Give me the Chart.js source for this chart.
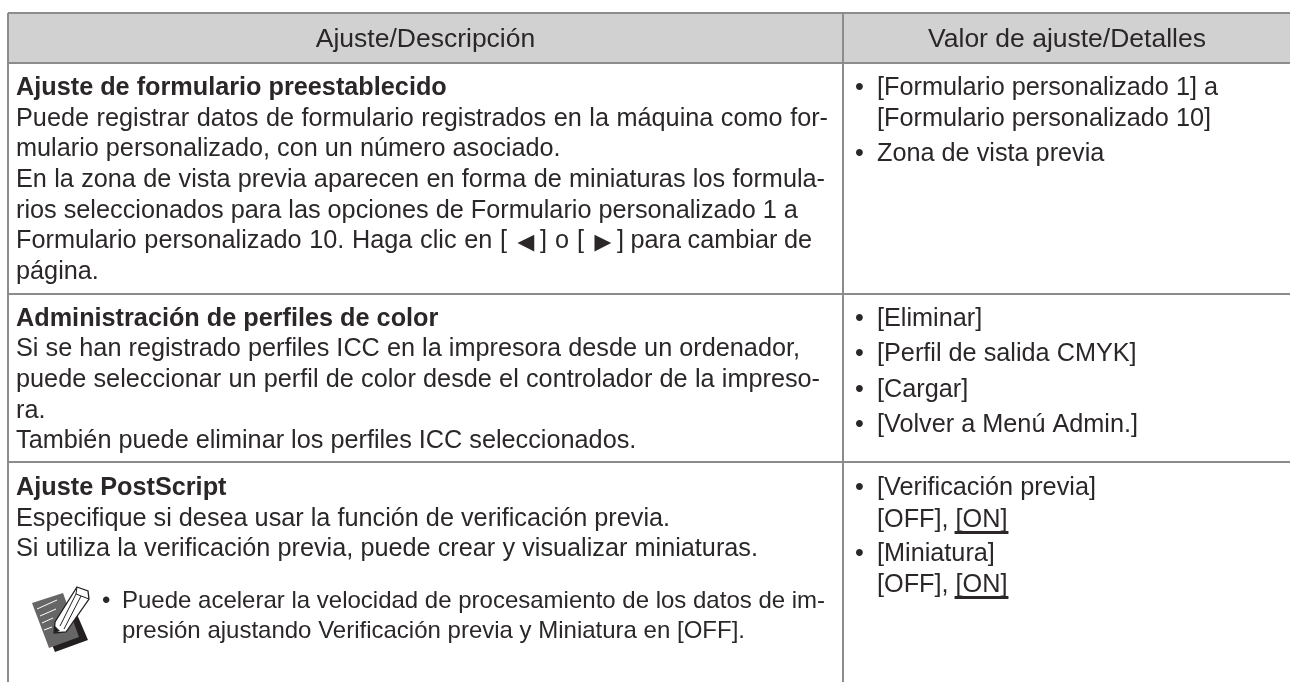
<!DOCTYPE html>
<html>
<head>
<meta charset="utf-8">
<style>
  html, body { margin: 0; padding: 0; background: #fff; }
  #wrap { width: 1290px; height: 682px; }
</style>
<script src="https://cdn.jsdelivr.net/npm/chart.js@4"></script>
</head>
<body>
<div id="wrap"><canvas id="chart" width="1290" height="682"></canvas></div>
<script>
// table rules, in chart units
const colEdges = [8, 843, 1290];
const rowEdges = [13, 63, 293.5, 462, 682];

const headers = ['Ajuste/Descripción', 'Valor de ajuste/Detalles'];

// [weight, text, right end of the line when the word gaps are stretched]
const row1Left = [
  ['b', 'Ajuste de formulario preestablecido'],
  ['', 'Puede registrar datos de formulario registrados en la máquina como for-', 828],
  ['', 'mulario personalizado, con un número asociado.'],
  ['', 'En la zona de vista previa aparecen en forma de miniaturas los formula-', 825],
  ['', 'rios seleccionados para las opciones de Formulario personalizado 1 a'],
  null, // arrow line, see arrowLine
  ['', 'página.'],
];
const row2Left = [
  ['b', 'Administración de perfiles de color'],
  ['', 'Si se han registrado perfiles ICC en la impresora desde un ordenador,', 800],
  ['', 'puede seleccionar un perfil de color desde el controlador de la impreso-', 820],
  ['', 'ra.'],
  ['', 'También puede eliminar los perfiles ICC seleccionados.'],
];
const row3Left = [
  ['b', 'Ajuste PostScript'],
  ['', 'Especifique si desea usar la función de verificación previa.'],
  ['', 'Si utiliza la verificación previa, puede crear y visualizar miniaturas.', 758],
];
const noteLines = [
  'Puede acelerar la velocidad de procesamiento de los datos de im-',
  'presión ajustando Verificación previa y Miniatura en [OFF].',
];
// [text, left, right end]
const arrowLine = [
  ['Formulario personalizado 10. Haga clic en [', 16, 507],
  ['] o [', 540, 584],
  ['] para cambiar de', 617, 812],
];
const arrowGlyphs = [['◄', 512], ['►', 589]];
const row1Right = [[95, '• ', '[Formulario personalizado 1] a'], [126, '', '[Formulario personalizado 10]'], [161, '• ', 'Zona de vista previa']];
const row2Right = [[326, '• ', '[Eliminar]'], [361, '• ', '[Perfil de salida CMYK]'], [397, '• ', '[Cargar]'], [432, '• ', '[Volver a Menú Admin.]']];
const row3Right = [[495, '• ', '[Verificación previa]'], [527, '', '[OFF], ', '[ON]'], [561, '• ', '[Miniatura]'], [592, '', '[OFF], ', '[ON]']];

const FONT = '"Liberation Sans", Arial, sans-serif';
const INK = '#2b2728';
const SIZE = 25.25;
const HEAD_SIZE = 26.5;
const NOTE_SIZE = 24;
const ARROW_SIZE = 28;
const LEADING = 30.67;

function text(ctx, str, x, y, bold, size) {
  ctx.font = (bold ? 'bold ' : '') + (size || SIZE) + 'px ' + FONT;
  ctx.fillText(str, x, y);
}

function fitted(ctx, str, x, y, end, bold) {
  ctx.font = (bold ? 'bold ' : '') + SIZE + 'px ' + FONT;
  const gaps = str.split(' ').length - 1;
  ctx.wordSpacing = (end && gaps ? (end - x - ctx.measureText(str).width) / gaps : 0) + 'px';
  ctx.fillText(str, x, y);
  ctx.wordSpacing = '0px';
}

function leftBlock(ctx, lines, x, top) {
  lines.forEach((line, i) => {
    const y = top + i * LEADING;
    if (line) {
      fitted(ctx, line[1], x, y, line[2], line[0] === 'b');
    } else {
      arrowLine.forEach((part) => fitted(ctx, part[0], part[1], y, part[2]));
      arrowGlyphs.forEach((glyph) => text(ctx, glyph[0], glyph[1], y + 3, false, ARROW_SIZE));
    }
  });
}

function rightBlock(ctx, lines) {
  lines.forEach((line) => {
    const y = line[0];
    if (line[1]) text(ctx, '•', 855, y);
    text(ctx, line[2], 877, y);
    if (line[3]) {
      const x = 877 + ctx.measureText(line[2]).width;
      text(ctx, line[3], x, y);
      ctx.fillRect(x - 1, y + 4, ctx.measureText(line[3]).width + 2, 3);
    }
  });
}

function poly(ctx, pts) {
  ctx.beginPath();
  pts.forEach((p, i) => (i ? ctx.lineTo(p[0], p[1]) : ctx.moveTo(p[0], p[1])));
  ctx.closePath();
}

function noteIcon(ctx) {
  ctx.save();
  ctx.fillStyle = '#231f20';
  poly(ctx, [[76, 612], [88, 640], [55, 652], [50, 640]]);
  ctx.fill();
  ctx.fillStyle = '#666';
  poly(ctx, [[32, 603], [63, 593], [79, 637], [49, 648]]);
  ctx.fill();
  ctx.strokeStyle = '#fff';
  ctx.lineWidth = 1;
  [[37, 609, 57, 600], [40, 616, 56, 609], [42, 623, 53, 618], [44, 630, 52, 627]].forEach((s) => {
    ctx.beginPath(); ctx.moveTo(s[0], s[1]); ctx.lineTo(s[2], s[3]); ctx.stroke();
  });
  ctx.fillStyle = '#fff';
  ctx.strokeStyle = '#231f20';
  ctx.lineWidth = 1.3;
  poly(ctx, [[77, 587], [88, 591], [89, 599], [66, 632], [54, 633], [55, 622]]);
  ctx.fill(); ctx.stroke();
  ctx.lineWidth = 1;
  [[76, 594, 60, 626], [81, 596, 64, 629], [77, 587, 76, 594], [76, 594, 89, 599]].forEach((s) => {
    ctx.beginPath(); ctx.moveTo(s[0], s[1]); ctx.lineTo(s[2], s[3]); ctx.stroke();
  });
  ctx.fillStyle = '#231f20';
  poly(ctx, [[54, 633], [55, 626], [60, 631]]);
  ctx.fill();
  ctx.restore();
}

const tablePlugin = {
  id: 'tableText',
  afterDatasetsDraw(chart) {
    const { ctx, scales: { x } } = chart;
    ctx.save();
    ctx.fillStyle = INK;
    ctx.textBaseline = 'alphabetic';
    ctx.textAlign = 'center';
    text(ctx, headers[0], (x.getPixelForValue(colEdges[0]) + x.getPixelForValue(colEdges[1])) / 2, 47, false, HEAD_SIZE);
    text(ctx, headers[1], 1067, 47, false, HEAD_SIZE);
    ctx.textAlign = 'left';

    leftBlock(ctx, row1Left, 16, 95);
    leftBlock(ctx, row2Left, 16, 325.5);
    leftBlock(ctx, row3Left, 16, 495);
    text(ctx, '•', 102, 608, false, NOTE_SIZE);
    text(ctx, noteLines[0], 122, 608, false, NOTE_SIZE);
    text(ctx, noteLines[1], 122, 638, false, NOTE_SIZE);

    rightBlock(ctx, row1Right);
    rightBlock(ctx, row2Right);
    rightBlock(ctx, row3Right);

    noteIcon(ctx);
    ctx.restore();
  },
};

new Chart(document.getElementById('chart'), {
  type: 'line',
  data: {
    datasets: [{
      // header band: filled from the header rule up to the top rule (y axis is reversed)
      data: [{ x: colEdges[0], y: rowEdges[1] }, { x: colEdges[2], y: rowEdges[1] }],
      fill: 'end',
      backgroundColor: '#d1d1d1',
      borderWidth: 0,
      pointRadius: 0,
    }],
  },
  options: {
    responsive: false,
    animation: false,
    layout: { padding: { left: colEdges[0], top: rowEdges[0], right: 0, bottom: 0 } },
    plugins: { legend: { display: false }, tooltip: { enabled: false } },
    scales: {
      x: {
        type: 'linear',
        min: colEdges[0],
        max: colEdges[2],
        // the table runs off the right and bottom of the page, no closing rule there
        afterBuildTicks: (axis) => { axis.ticks = colEdges.slice(0, 2).map((value) => ({ value })); },
        ticks: { display: false },
        border: { display: false },
        grid: { color: '#8c8c8c', lineWidth: 2, drawTicks: false, z: 1 },
      },
      y: {
        type: 'linear',
        reverse: true,
        min: rowEdges[0],
        max: rowEdges[4],
        afterBuildTicks: (axis) => { axis.ticks = rowEdges.slice(0, 4).map((value) => ({ value })); },
        ticks: { display: false },
        border: { display: false },
        grid: { color: '#8c8c8c', lineWidth: 2, drawTicks: false, z: 1 },
      },
    },
  },
  plugins: [tablePlugin],
});
</script>
</body>
</html>
